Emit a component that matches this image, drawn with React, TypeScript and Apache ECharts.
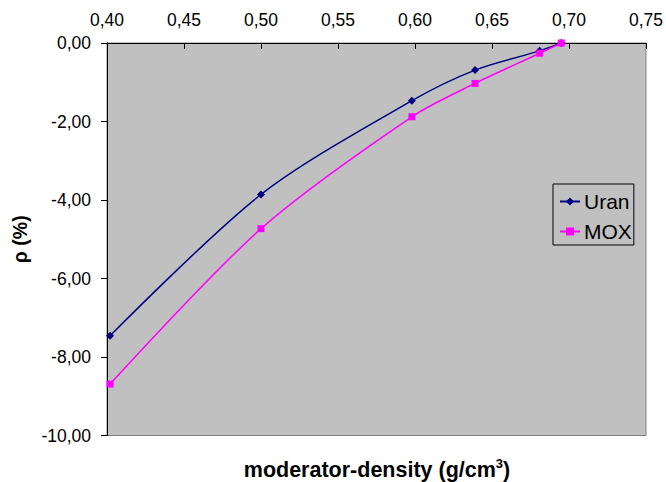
import React, { useEffect, useRef } from "react";
import * as echarts from "echarts";

const uranData: [number, number][] = [
  [0.402, -7.46],
  [0.5, -3.86],
  [0.598, -1.47],
  [0.639, -0.69],
  [0.681, -0.2],
  [0.695, 0],
];
const moxData: [number, number][] = [
  [0.402, -8.69],
  [0.5, -4.73],
  [0.598, -1.88],
  [0.639, -1.03],
  [0.681, -0.26],
  [0.695, 0],
];
const seriesNames = ["Uran", "MOX"];
const xName = "moderator-density (g/cm";
const yName = "ρ (%)";

const fmt = (v: number) => v.toFixed(2).replace(".", ",");

export default function App() {
  const ref = useRef<HTMLDivElement>(null);
  useEffect(() => {
    if (!ref.current) return;
    const chart = echarts.init(ref.current, undefined, { renderer: "svg" });
    const font = "Arial, 'Liberation Sans', sans-serif";
    chart.setOption({
      animation: false,
      backgroundColor: "#ffffff",
      textStyle: { fontFamily: font },
      grid: {
        left: 107,
        top: 43,
        right: 18.5,
        bottom: 46.5,
        show: true,
        backgroundColor: "#C0C0C0",
        borderColor: "#808080",
        borderWidth: 1,
      },
      title: {
        text: "{a|" + xName + "}{s|3}{a|)}",
        left: 377,
        textAlign: "center",
        top: 457.5,
        padding: 0,
        textStyle: {
          rich: {
            a: { fontSize: 21.5, fontWeight: "bold", color: "#000", fontFamily: font, lineHeight: 24 },
            s: { fontSize: 13, fontWeight: "bold", color: "#000", fontFamily: font, lineHeight: 24, padding: [0, 0, 12, 0] },
          },
        },
      },
      legend: {
        data: seriesNames,
        orient: "vertical",
        left: 553,
        top: 184,
        backgroundColor: "#C0C0C0",
        borderColor: "#000",
        borderWidth: 1,
        borderRadius: 0,
        padding: [7, 2, 3, 6],
        itemWidth: 20,
        itemHeight: 10,
        itemGap: 9,
        textStyle: { fontSize: 21, color: "#000", fontFamily: font, padding: [0, 0, 0, -1] },
      },
      xAxis: {
        type: "value",
        position: "top",
        min: 0.4,
        max: 0.75,
        interval: 0.05,
        axisLine: { show: true, lineStyle: { color: "#000", width: 1 } },
        axisTick: { show: true, inside: true, length: 6, lineStyle: { color: "#000" } },
        splitLine: { show: false },
        axisLabel: {
          formatter: (v: number) => fmt(v),
          fontSize: 17.5,
          color: "#000",
          fontFamily: font,
          margin: 14,
        },
      },
      yAxis: {
        type: "value",
        min: -10,
        max: 0,
        interval: 2,
        name: yName,
        nameLocation: "middle",
        nameGap: 75,
        nameTextStyle: { fontSize: 19.5, fontWeight: "bold", color: "#000", fontFamily: font },
        axisLine: { show: true, lineStyle: { color: "#000", width: 1 } },
        axisTick: { show: true, inside: false, length: 6, lineStyle: { color: "#000" } },
        splitLine: { show: false },
        axisLabel: {
          formatter: (v: number) => fmt(v),
          fontSize: 17.5,
          color: "#000",
          fontFamily: font,
          margin: 16,
        },
      },
      series: [
        {
          name: seriesNames[0],
          type: "line",
          data: uranData,
          smooth: 0.3,
          symbol: "diamond",
          symbolSize: 8,
          itemStyle: { color: "#000080" },
          lineStyle: { color: "#000080", width: 1.5 },
        },
        {
          name: seriesNames[1],
          type: "line",
          data: moxData,
          smooth: 0.3,
          symbol: "rect",
          symbolSize: 7,
          itemStyle: { color: "#FF00FF" },
          lineStyle: { color: "#FF00FF", width: 1.5 },
        },
      ],
    });
    return () => chart.dispose();
  }, []);
  return (
    <div
      ref={ref}
      style={{ position: "fixed", left: 0, top: 0, width: 666, height: 482 }}
    />
  );
}
